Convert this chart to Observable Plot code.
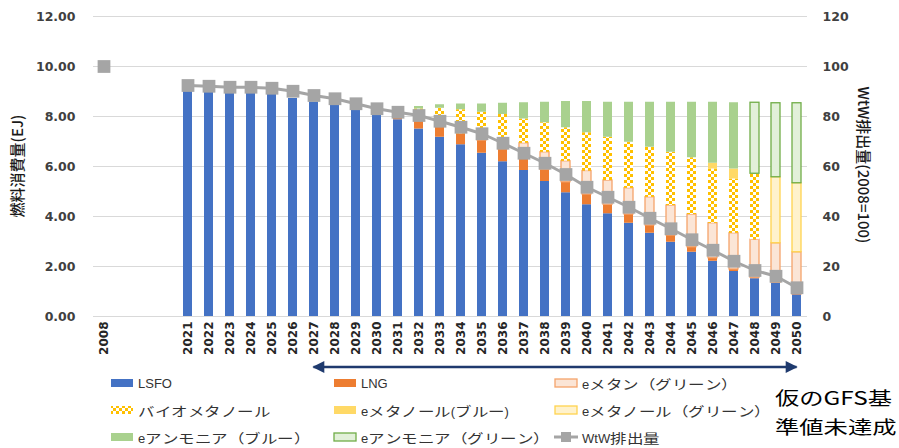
<!DOCTYPE html>
<html><head><meta charset="utf-8">
<script src="https://cdn.jsdelivr.net/npm/d3@7"></script>
<script src="https://cdn.jsdelivr.net/npm/@observablehq/plot@0.6"></script>
<style>
body{margin:0;background:#fff;}
#wrap{position:relative;width:899px;height:448px;overflow:hidden;font-family:"Liberation Sans","Noto Sans CJK JP",sans-serif;}
#chart svg{display:block;}
.lg{position:absolute;display:flex;align-items:center;height:20px;color:#333;font-size:13px;white-space:nowrap;}
.lg svg{margin-right:4px;flex:none;}
.lg .cj{display:inline-block;width:16.5px;font-family:"Noto Sans CJK JP",sans-serif;}
.lg .cj i{display:inline-block;font-style:normal;transform:scaleX(1.27);transform-origin:left center;}
.note{position:absolute;left:775px;top:383px;font-family:"Noto Sans CJK JP",sans-serif;font-size:18px;line-height:29px;color:#000;transform-origin:left top;transform:scaleX(1.35);white-space:nowrap;}
</style></head><body>
<div id="wrap"><div id="chart"></div><div id="legend"></div><div class="note">仮のGFS基<br>準値未達成</div></div>
<script>
// ---- data ----
const categories = ["2008","b1","b2","b3","2021","2022","2023","2024","2025","2026","2027","2028","2029","2030","2031","2032","2033","2034","2035","2036","2037","2038","2039","2040","2041","2042","2043","2044","2045","2046","2047","2048","2049","2050"];
const fuelYears = ["2021","2022","2023","2024","2025","2026","2027","2028","2029","2030","2031","2032","2033","2034","2035","2036","2037","2038","2039","2040","2041","2042","2043","2044","2045","2046","2047","2048","2049","2050"];
const emissionYears = ["2008"].concat(fuelYears);
const seriesNames = ["LSFO","LNG","eメタン（グリーン）","バイオメタノール","eメタノール(ブルー)","eメタノール（グリーン）","eアンモニア（ブルー）","eアンモニア（グリーン）"];
const LSFO = [9.0,8.96,8.92,8.92,8.88,8.72,8.58,8.44,8.25,8.05,7.87,7.5,7.17,6.87,6.53,6.19,5.84,5.4,4.95,4.47,4.11,3.73,3.33,2.97,2.57,2.21,1.8,1.51,1.33,0.88];
const LNG = [0,0,0,0,0,0,0,0,0,0,0.06,0.3,0.4,0.44,0.51,0.5,0.56,0.47,0.42,0.41,0.36,0.35,0.31,0.27,0.2,0.12,0.08,0.04,0.02,0];
const eMethaneGreen = [0,0,0,0,0,0,0,0,0,0,0,0,0,0,0.15,0.35,0.53,0.7,0.84,0.94,0.97,1.05,1.13,1.2,1.31,1.4,1.45,1.52,1.58,1.69];
const bioMethanol = [0,0,0,0,0,0,0,0,0,0,0,0.5,0.76,0.96,0.98,1.04,0.97,1.18,1.34,1.53,1.73,1.84,2.0,2.13,2.27,2.17,2.17,2.64,0,0];
const eMethanolBlue = [0,0,0,0,0,0,0,0,0,0,0,0,0,0,0,0,0,0,0,0,0,0,0,0,0,0.23,0.4,0,0,0];
const eMethanolGreen = [0,0,0,0,0,0,0,0,0,0,0,0,0,0,0,0,0,0,0,0,0,0,0,0,0,0,0,0,2.64,2.76];
const eAmmoniaBlue = [0,0,0,0,0,0,0,0,0,0,0,0.1,0.14,0.23,0.33,0.45,0.65,0.82,1.05,1.25,1.4,1.6,1.8,2.0,2.22,2.44,2.65,0,0,0];
const eAmmoniaGreen = [0,0,0,0,0,0,0,0,0,0,0,0,0,0,0,0,0,0,0,0,0,0,0,0,0,0,0,2.84,2.96,3.2];
const wtwEmission = [100,92.4,92.1,91.7,91.7,91.3,90.1,88.4,87.1,85.1,83.1,81.7,80.4,78.1,75.7,73.1,69.3,65.3,61.3,56.8,51.7,47.7,43.7,39.3,35.1,30.7,26.5,22.1,18.4,16.1,11.5];
const leftTicks = [0,2,4,6,8,10,12];

// ---- styles ----
const seriesValues = [LSFO,LNG,eMethaneGreen,bioMethanol,eMethanolBlue,eMethanolGreen,eAmmoniaBlue,eAmmoniaGreen];
const fills = ["#4472C4","#ED7D31","#FBE5D6","url(#bioPat)","#FFD966","#FFF2CC","#A9D18E","#E2F0D9"];
const strokes = ["none","none","#F4A46B","none","none","#FFD34F","none","#70AD47"];

const rows = [];
fuelYears.forEach((y, i) => {
  seriesNames.forEach((s, k) => {
    const v = seriesValues[k][i];
    if (v > 0) rows.push({year: y, series: s, k, value: v});
  });
});
const emRows = emissionYears.map((y, i) => ({year: y, em: wtwEmission[i]}));
const lineRows = emRows.filter(d => d.year !== "2008");

const chart = Plot.plot({
  width: 899, height: 378,
  marginLeft: 93, marginRight: 92, marginTop: 16, marginBottom: 62,
  style: {fontFamily: "'DejaVu Sans', 'Noto Sans CJK JP', sans-serif", fontSize: "12.5px", color: "#404040", background: "#fff"},
  x: {type: "band", domain: categories, paddingInner: 0.57, paddingOuter: 0.285},
  y: {domain: [0, 12]},
  marks: [
    Plot.gridY(leftTicks, {stroke: "#D9D9D9", strokeOpacity: 1, strokeWidth: 1}),
    Plot.barY(rows, Plot.stackY({x: "year", y: "value", z: "series", fill: d => fills[d.k], stroke: d => strokes[d.k], strokeWidth: 1.3})),
    Plot.line(lineRows, {x: "year", y: d => d.em / 10, stroke: "#A5A5A5", strokeWidth: 3}),
    Plot.dot(emRows, {x: "year", y: d => d.em / 10, symbol: "square", r: 7.2, fill: "#A5A5A5", stroke: "none"}),
    Plot.axisY(leftTicks, {anchor: "left", tickSize: 0, tickPadding: 18, tickFormat: d3.format(".2f"), label: null, fontWeight: "bold"}),
    Plot.axisY(leftTicks, {anchor: "right", tickSize: 0, tickPadding: 15, tickFormat: d => String(d * 10), label: null, fontWeight: "bold"}),
    Plot.axisX({anchor: "bottom", tickSize: 0, tickPadding: 5, tickRotate: -90, tickFormat: d => d.startsWith("b") ? "" : d, label: null, fontWeight: "bold", fontSize: "12px", fill: "#262626"})
  ]
});
document.getElementById("chart").appendChild(chart);

const svg = d3.select(chart);
const defs = svg.insert("defs", ":first-child");
const pat = defs.append("pattern").attr("id", "bioPat").attr("patternUnits", "userSpaceOnUse").attr("width", 6).attr("height", 6);
pat.append("rect").attr("width", 6).attr("height", 6).attr("fill", "#fff");
pat.append("rect").attr("width", 3).attr("height", 3).attr("fill", "#FFC000");
pat.append("rect").attr("x", 3).attr("y", 3).attr("width", 3).attr("height", 3).attr("fill", "#FFC000");
const mk = defs.append("marker").attr("id", "arrHead").attr("viewBox", "0 0 10 10").attr("refX", 9).attr("refY", 5)
  .attr("markerUnits", "userSpaceOnUse").attr("markerWidth", 14).attr("markerHeight", 12).attr("orient", "auto-start-reverse");
mk.append("path").attr("d", "M0,0L10,5L0,10Z").attr("fill", "#1F3A6E");

// axis titles
svg.append("text").attr("transform", "translate(19,166) rotate(-90)").attr("text-anchor", "middle").attr("dominant-baseline", "middle")
  .style("font-family", "'Noto Sans CJK JP', sans-serif").style("font-size", "15px").style("font-weight", "500").attr("fill", "#1a1a1a").text("燃料消費量(EJ)");
svg.append("text").attr("transform", "translate(862,165) rotate(90)").attr("text-anchor", "middle").attr("dominant-baseline", "middle")
  .style("font-family", "'Noto Sans CJK JP', sans-serif").style("font-size", "15px").style("font-weight", "500").attr("fill", "#1a1a1a").text("WtW排出量(2008=100)");

// arrow
const xs = chart.scale("x");
const bw = xs.bandwidth;
const xa = xs.apply("2027") + bw / 2, xb = xs.apply("2050") + bw / 2;
svg.append("line").attr("x1", xa).attr("x2", xb).attr("y1", 367).attr("y2", 367)
  .attr("stroke", "#1F3A6E").attr("stroke-width", 2.5)
  .attr("marker-start", "url(#arrHead)").attr("marker-end", "url(#arrHead)");

// legend
const legendItems = seriesNames.concat(["WtW排出量"]);
const colX = [110, 333, 554], rowY = [373, 400, 427];
const lg = document.getElementById("legend");
const isCJK = ch => /[\u3000-\u9fff\uff00-\uffef]/.test(ch);
const labelHTML = name => Array.from(name).map(ch => isCJK(ch) ? `<span class="cj"><i>${ch}</i></span>` : ch).join("");
legendItems.forEach((name, i) => {
  const div = document.createElement("div");
  div.className = "lg";
  div.style.left = colX[i % 3] + "px";
  div.style.top = rowY[Math.floor(i / 3)] + "px";
  let sw;
  if (i < 8) {
    const st = strokes[i];
    sw = `<svg width="24" height="10"><defs><pattern id="lp${i}" patternUnits="userSpaceOnUse" width="6" height="6"><rect width="6" height="6" fill="#fff"/><rect width="3" height="3" fill="#FFC000"/><rect x="3" y="3" width="3" height="3" fill="#FFC000"/></pattern></defs><rect x="1" y="1" width="22" height="8" fill="${i === 3 ? `url(#lp${i})` : fills[i]}" stroke="${st}" stroke-width="1.3"/></svg>`;
  } else {
    sw = `<svg width="24" height="10"><line x1="0" x2="24" y1="5" y2="5" stroke="#A5A5A5" stroke-width="3"/><rect x="7" y="0" width="10" height="10" fill="#A5A5A5"/></svg>`;
  }
  div.innerHTML = sw + `<span class="txt">${labelHTML(name)}</span>`;
  lg.appendChild(div);
});
</script>
</body></html>
